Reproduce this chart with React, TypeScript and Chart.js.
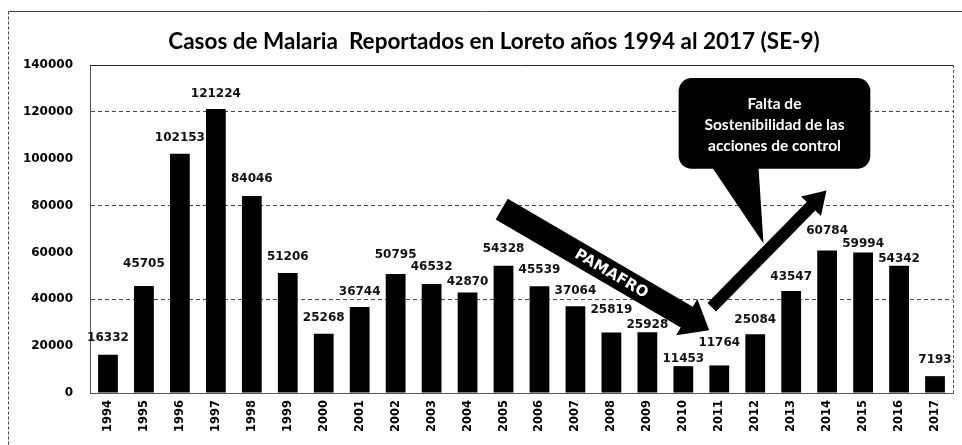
import React, { useEffect, useRef } from "react";
import { Chart, registerables } from "chart.js";

Chart.register(...registerables);

const YEARS = [
  "1994", "1995", "1996", "1997", "1998", "1999", "2000", "2001",
  "2002", "2003", "2004", "2005", "2006", "2007", "2008", "2009",
  "2010", "2011", "2012", "2013", "2014", "2015", "2016", "2017",
];
const CASES = [
  16332, 45705, 102153, 121224, 84046, 51206, 25268, 36744,
  50795, 46532, 42870, 54328, 45539, 37064, 25819, 25928,
  11453, 11764, 25084, 43547, 60784, 59994, 54342, 7193,
];
const Y_MAX = 140000;
const Y_STEP = 20000;
const TITLE = "Casos de Malaria  Reportados en Loreto años 1994 al 2017 (SE-9)";
const ARROW_DOWN_LABEL = "PAMAFRO";
const CALLOUT_LINES = ["Falta de", "Sostenibilidad de las", "acciones de control"];

// styling: how far (px) each value label sits above its bar
const LABEL_LIFT = [
  17, 22, 16, 15, 17, 16, 16, 15,
  19, 17, 11, 17, 16, 15, 23, 7,
  7, 23, 14, 14, 20, 9, 7, 16,
];

// annotation anchors in data space (category index, value)
const PAMAFRO_FROM = { i: 10.95, v: 78500 };
const PAMAFRO_TO = { i: 16.72, v: 26800 };
const UP_FROM = { i: 16.79, v: 36600 };
const UP_TO = { i: 19.98, v: 86400 };
const CALLOUT_BOX = { i0: 15.87, i1: 21.2, v0: 134400, v1: 95700 };
const CALLOUT_PTR = { i0: 16.79, i1: 18.09, tipI: 18.23, tipV: 63800 };

function drawArrow(ctx, x1, y1, x2, y2, w, hw, hl) {
  const ang = Math.atan2(y2 - y1, x2 - x1);
  const len = Math.hypot(x2 - x1, y2 - y1);
  ctx.save();
  ctx.translate(x1, y1);
  ctx.rotate(ang);
  ctx.beginPath();
  ctx.moveTo(0, -w / 2);
  ctx.lineTo(len - hl, -w / 2);
  ctx.lineTo(len - hl, -hw / 2);
  ctx.lineTo(len, 0);
  ctx.lineTo(len - hl, hw / 2);
  ctx.lineTo(len - hl, w / 2);
  ctx.lineTo(0, w / 2);
  ctx.closePath();
  ctx.fillStyle = "#000";
  ctx.fill();
  ctx.restore();
}

const overlay = {
  id: "overlay",
  afterDatasetsDraw(chart) {
    const { ctx, chartArea } = chart;
    const xs = chart.scales.x;
    const ys = chart.scales.y;
    const px = (i) => xs.getPixelForValue(i);
    const py = (v) => ys.getPixelForValue(v);

    ctx.save();
    // outer frame
    ctx.strokeStyle = "#444";
    ctx.lineWidth = 1;
    ctx.setLineDash([]);
    ctx.beginPath();
    ctx.moveTo(8.5, 11.5);
    ctx.lineTo(962, 11.5);
    ctx.stroke();
    ctx.setLineDash([3, 2]);
    ctx.beginPath();
    ctx.moveTo(8.5, 11.5);
    ctx.lineTo(8.5, 445);
    ctx.stroke();
    // plot frame top / right
    ctx.setLineDash([]);
    ctx.strokeStyle = "#222";
    ctx.beginPath();
    ctx.moveTo(chartArea.left, chartArea.top + 0.5);
    ctx.lineTo(chartArea.right, chartArea.top + 0.5);
    ctx.stroke();
    ctx.setLineDash([3, 2]);
    ctx.strokeStyle = "#555";
    ctx.beginPath();
    ctx.moveTo(chartArea.right + 0.5, chartArea.top);
    ctx.lineTo(chartArea.right + 0.5, chartArea.bottom);
    ctx.stroke();
    ctx.setLineDash([]);

    // title
    ctx.fillStyle = "#000";
    ctx.font = "bold 22.5px Lato";
    ctx.textAlign = "center";
    ctx.textBaseline = "middle";
    ctx.fillText(TITLE, 494, 42);

    // data labels
    const meta = chart.getDatasetMeta(0);
    ctx.font = "bold 12px 'DejaVu Sans'";
    ctx.fillStyle = "#111";
    meta.data.forEach((bar, k) => {
      ctx.fillText(String(CASES[k]), bar.x, bar.y - LABEL_LIFT[k]);
    });

    // PAMAFRO arrow
    const ax1 = px(PAMAFRO_FROM.i), ay1 = py(PAMAFRO_FROM.v);
    const ax2 = px(PAMAFRO_TO.i), ay2 = py(PAMAFRO_TO.v);
    drawArrow(ctx, ax1, ay1, ax2, ay2, 24, 42, 26);
    ctx.save();
    const ang = Math.atan2(ay2 - ay1, ax2 - ax1);
    const tx = ax1 + (ax2 - ax1) * 0.53;
    const ty = ay1 + (ay2 - ay1) * 0.53;
    ctx.translate(tx, ty);
    ctx.rotate(ang);
    ctx.fillStyle = "#fff";
    ctx.font = "bold 15px 'DejaVu Sans'";
    ctx.fillText(ARROW_DOWN_LABEL, 0, 1);
    ctx.restore();

    // up arrow
    drawArrow(ctx, px(UP_FROM.i), py(UP_FROM.v), px(UP_TO.i), py(UP_TO.v), 12, 28, 22);

    // callout
    const bx0 = px(CALLOUT_BOX.i0), bx1 = px(CALLOUT_BOX.i1);
    const by0 = py(CALLOUT_BOX.v0), by1 = py(CALLOUT_BOX.v1);
    ctx.fillStyle = "#000";
    ctx.beginPath();
    ctx.roundRect(bx0, by0, bx1 - bx0, by1 - by0, 13);
    ctx.fill();
    ctx.beginPath();
    ctx.moveTo(px(CALLOUT_PTR.i0), by1 - 2);
    ctx.lineTo(px(CALLOUT_PTR.tipI), py(CALLOUT_PTR.tipV));
    ctx.lineTo(px(CALLOUT_PTR.i1), by1 - 2);
    ctx.closePath();
    ctx.fill();
    ctx.fillStyle = "#fff";
    ctx.font = "bold 15.5px Lato";
    const cx = (bx0 + bx1) / 2;
    const cy = (by0 + by1) / 2;
    CALLOUT_LINES.forEach((line, k) => {
      ctx.fillText(line, cx, cy + (k - 1) * 21 + 2);
    });
    ctx.restore();
  },
};

export default function App() {
  const ref = useRef(null);
  useEffect(() => {
    const chart = new Chart(ref.current, {
      type: "bar",
      data: {
        labels: YEARS,
        datasets: [
          {
            data: CASES,
            backgroundColor: "#000",
            borderWidth: 0,
            categoryPercentage: 1,
            barPercentage: 0.55,
          },
        ],
      },
      options: {
        responsive: false,
        animation: false,
        devicePixelRatio: 1,
        layout: { padding: { top: 65, right: 9, left: 0, bottom: 0 } },
        plugins: {
          legend: { display: false },
          title: { display: false },
          tooltip: { enabled: false },
        },
        scales: {
          x: {
            grid: { display: false, drawTicks: false },
            border: { display: true, color: "#555" },
            ticks: {
              autoSkip: false,
              minRotation: 90,
              maxRotation: 90,
              padding: 7,
              color: "#000",
              font: { family: "'DejaVu Sans'", weight: "bold", size: 11.5 },
            },
            afterFit: (s) => {
              s.height = 52;
            },
          },
          y: {
            min: 0,
            max: Y_MAX,
            ticks: {
              stepSize: Y_STEP,
              padding: 17,
              color: "#000",
              font: { family: "'DejaVu Sans'", weight: "bold", size: 12 },
              callback: (v) => String(v),
            },
            grid: {
              drawTicks: false,
              color: (c) =>
                c.tick && c.tick.value > 0 && c.tick.value < Y_MAX && c.tick.value % 40000 === 0
                  ? "#444"
                  : "rgba(0,0,0,0)",
              lineWidth: 1,
            },
            border: { display: true, color: "#555", dash: [4, 3] },
            afterFit: (s) => {
              s.width = 90;
            },
          },
        },
      },
      plugins: [overlay],
    });
    return () => chart.destroy();
  }, []);
  return (
    <div style={{ position: "absolute", left: 0, top: 0, width: 962, height: 445, background: "#fff" }}>
      <canvas ref={ref} width={962} height={445} />
    </div>
  );
}
